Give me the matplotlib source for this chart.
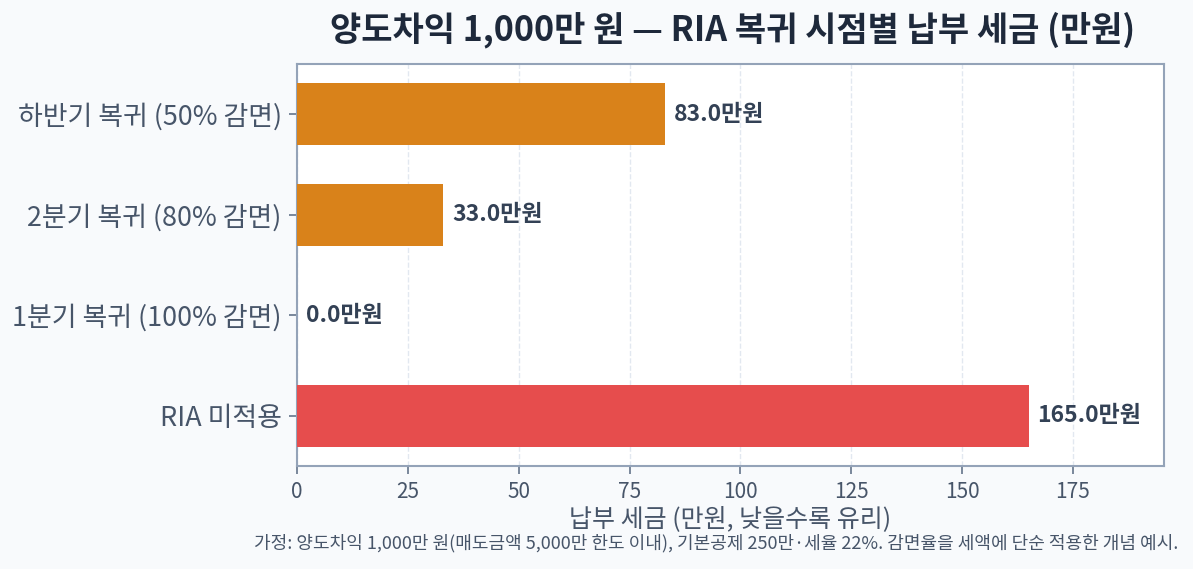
import matplotlib
matplotlib.use("Agg")
import matplotlib.pyplot as plt

plt.rcParams['font.family'] = ['Noto Sans CJK KR', 'DejaVu Sans']

categories = ["RIA 미적용", "1분기 복귀 (100% 감면)", "2분기 복귀 (80% 감면)", "하반기 복귀 (50% 감면)"]
values = [165.0, 0.0, 33.0, 83.0]
colors = ["#E64D4D", "#D9821A", "#D9821A", "#D9821A"]
xticks = [0, 25, 50, 75, 100, 125, 150, 175]

title = "양도차익 1,000만 원 — RIA 복귀 시점별 납부 세금 (만원)"
xlabel = "납부 세금 (만원, 낮을수록 유리)"
footnote = "가정: 양도차익 1,000만 원(매도금액 5,000만 한도 이내), 기본공제 250만·세율 22%. 감면율을 세액에 단순 적용한 개념 예시."

fig = plt.figure(figsize=(11.93, 5.69), dpi=100, facecolor="#F8FAFC")
ax = fig.add_axes([297/1193, 1-466/569, (1164-297)/1193, (466-64)/569])
ax.set_facecolor("white")

y = list(range(len(categories)))
ax.barh(y, values, height=0.62, color=colors, zorder=3)
ax.set_yticks(y)
ax.set_yticklabels(categories, fontsize=19.4, color="#475569")
ax.set_ylim(-0.5, 3.5)
ax.set_xlim(0, max(values) * 1.185)
ax.set_xticks(xticks)
ax.set_xticklabels([str(t) for t in xticks], fontsize=15, color="#475569")
ax.set_xlabel(xlabel, fontsize=18, color="#475569", labelpad=2)

for yi, v in zip(y, values):
    ax.text(v + 2, yi, f"{v:.1f}만원", va="center", ha="left", fontsize=16.5,
            fontweight="bold", color="#334155", zorder=4)

ax.grid(axis="x", linestyle="--", color="#E2E8F0", linewidth=1, zorder=0)
ax.set_axisbelow(True)
for s in ax.spines.values():
    s.set_color("#94A3B8")
    s.set_linewidth(1.5)
ax.tick_params(colors="#64748B", length=6, width=1.2, pad=5)
ax.tick_params(axis='x', labelcolor="#475569")
ax.tick_params(axis='y', labelcolor="#475569")

fig.text((297+1164)/2/1193 + 0.002, 1-30/569, title, ha="center", va="center",
         fontsize=24.5, fontweight="bold", color="#1E293B")
fig.text(1178/1193, 1-543/569, footnote, ha="right", va="center",
         fontsize=13, color="#475569")

fig.savefig("out.png", dpi=100, facecolor=fig.get_facecolor())
